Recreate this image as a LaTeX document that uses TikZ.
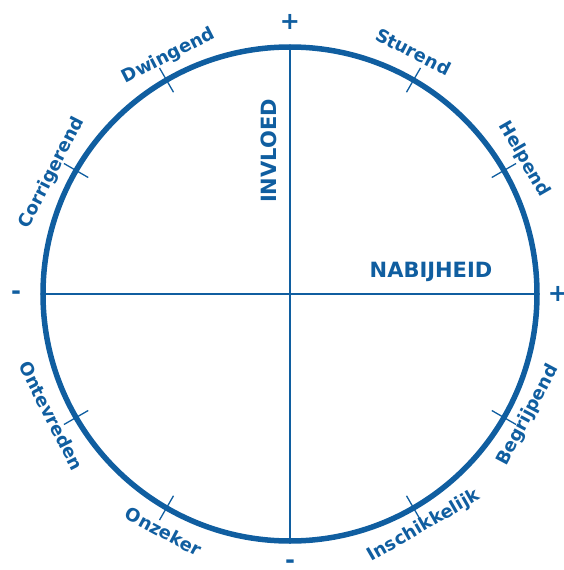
\documentclass[tikz,border=0pt]{standalone}
\usepackage{fontspec}
\setmainfont{DejaVu Sans}
\usepackage{tikz}
\definecolor{kompas}{RGB}{16,94,160}

\begin{document}
\begin{tikzpicture}[x=1pt,y=1pt,every node/.style={text=kompas,inner sep=0pt,font=\bfseries\fontsize{18}{18}\selectfont},
		as/.style={font=\bfseries\fontsize{21}{21}\selectfont},
		teken/.style={font=\bfseries\fontsize{24}{24}\selectfont}]
				\useasboundingbox (-290,-276) rectangle (273,294);
				\coordinate (boven) at (90:247);
				\coordinate (onder) at (270:247);
				\coordinate (links) at (180:247);
				\coordinate (rechts) at (0:247);
				\begin{scope}[kompas]
				\draw[line width=5.5pt] (0,0) circle (247);
				\draw[line width=1.6pt] (links)--(rechts);
				\draw[line width=1.6pt] (boven)--(onder);
				\foreach \h in {30,60,120,150,210,240,300,330}
					\draw[line width=1.3pt] (\h:233)--(\h:261);
				\end{scope}
				\node[rotate=27] (dwingend) at (117:267){Dwingend};
				\node[rotate=-27] (sturend) at (63:272){Sturend};
				\node[rotate=-60] (helpend) at (30:270){Helpend};
				\node[rotate=63] (corrigerend) at (153:267){Corrigerend};
				\node[rotate=-63] (ontevreden) at (207:268){Ontevreden};
				\node[rotate=-28] (onzeker) at (242:269){Onzeker};
				\node[rotate=30] (inschikkelijk) at (300:268){Inschikkelijk};
				\node[rotate=62] (begrijpend) at (333:267){Begrijpend};
				\node[as,rotate=90] (invloed) at (-21,143){INVLOED};
				\node[as] (nabijheid) at (141,22){NABIJHEID};
				\node[teken] (plusboven) at (0,272){+};
				\node[teken] (plusrechts) at (268,0){+};
				\node[teken] (minlinks) at (-274,-1){-};
				\node[teken] (minonder) at (0,-270){-};
			\end{tikzpicture}
\end{document}
